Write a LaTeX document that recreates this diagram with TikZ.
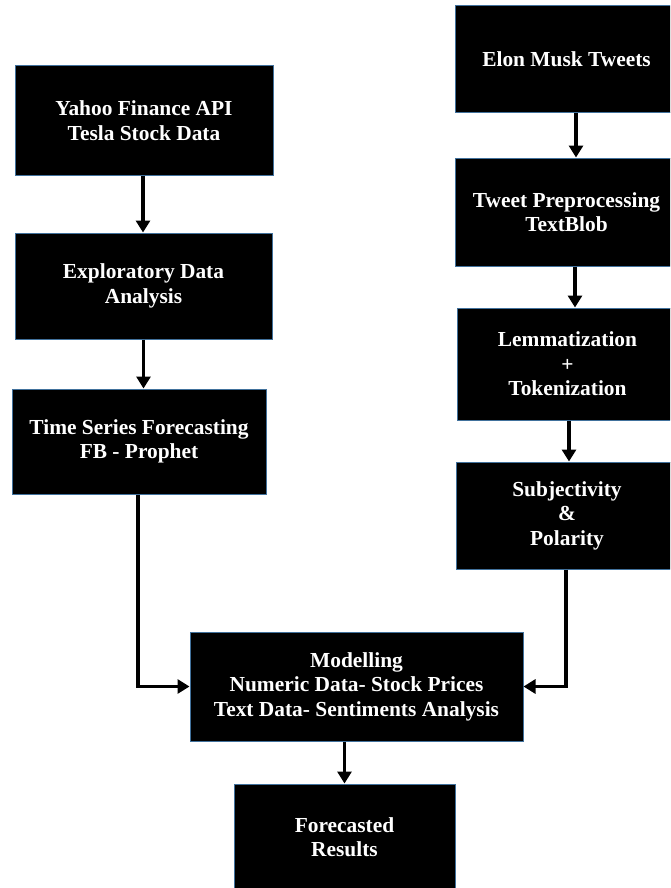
\documentclass[tikz,border=0pt]{standalone}
\usepackage{fontspec}
\setmainfont{Liberation Serif}
\usetikzlibrary{arrows.meta,calc}
\definecolor{boxedge}{HTML}{41719C}
\tikzset{
  box/.style={draw=boxedge, line width=1pt, fill=black, text=white, align=center,
    inner sep=0pt, font=\fontsize{21.4}{24.5}\selectfont\bfseries},
  arr/.style={line width=3.2pt, -{Triangle[width=14pt,length=12pt]}}
}
\begin{document}
\begin{tikzpicture}[x=1pt,y=-1pt]
\useasboundingbox (0,0) rectangle (670,888);
\clip (0,0) rectangle (670,888);
\fill[white] (0,0) rectangle (670,888);
\node[box, minimum width=258pt, minimum height=109pt] (b1) at (144,120.5) {Yahoo Finance API\\Tesla Stock Data};
\node[box, minimum width=257pt, minimum height=106pt] (b2) at (143.5,286) {Exploratory Data\\Analysis};
\node[box, minimum width=254pt, minimum height=105pt] (b3) at (139,441.5) {Time Series Forecasting\\FB - Prophet};
\node[box, minimum width=223pt, minimum height=107pt] (b4) at (566.5,59.5) {Elon Musk Tweets};
\node[box, minimum width=223pt, minimum height=108pt] (b5) at (566.5,212) {Tweet Preprocessing\\TextBlob};
\node[box, minimum width=221pt, minimum height=112pt] (b6) at (567.5,364) {Lemmatization\\+\\Tokenization};
\node[box, minimum width=222pt, minimum height=107pt] (b7) at (567,515.5) {Subjectivity\\\&\\Polarity};
\node[box, minimum width=333pt, minimum height=109pt] (b8) at (356.5,686.5) {Modelling\\Numeric Data- Stock Prices\\Text Data- Sentiments Analysis};
\node[box, minimum width=221pt, minimum height=106pt] (b9) at (344.5,837) {Forecasted\\Results};

\coordinate (a1) at ([xshift=-1pt]b1.south);
\draw[arr] (a1) -- (a1 |- b2.north);
\draw[arr] (b2.south) -- (b2.south |- b3.north);
\draw[arr] ([xshift=-1pt]b3.south) |- (b8.west);
\coordinate (a4) at ([xshift=9.5pt]b4.south);
\draw[arr] (a4) -- (a4 |- b5.north);
\coordinate (a5) at ([xshift=8.5pt]b5.south);
\draw[arr] (a5) -- (a5 |- b6.north);
\coordinate (a6) at ([xshift=1.5pt]b6.south);
\draw[arr] (a6) -- (a6 |- b7.north);
\draw[arr] ([xshift=-1pt]b7.south) |- (b8.east);
\draw[arr] (b9.north |- b8.south) -- (b9.north);
\end{tikzpicture}
\end{document}
